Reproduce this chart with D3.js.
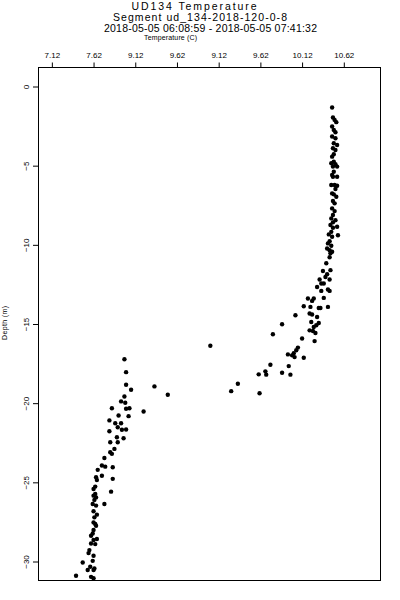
<!DOCTYPE html>
<html>
<head>
<meta charset="utf-8">
<script src="https://cdn.jsdelivr.net/npm/d3@7"></script>
<style>
  body { margin: 0; background: #fff; }
  svg { display: block; font-family: "Liberation Sans", Arial, Helvetica, sans-serif; }
  text { fill: #000; }
</style>
</head>
<body>
<svg id="chart" width="400" height="600"></svg>
<script>
// ===== data =====
const titleLines = [
	"UD134 Temperature",
	"Segment ud_134-2018-120-0-8",
	"2018-05-05 06:08:59 - 2018-05-05 07:41:32"
];
const xTitle = "Temperature (C)";
const yTitle = "Depth (m)";

const xTickValues = [7.12, 7.62, 8.12, 8.62, 9.12, 9.62, 10.12, 10.62];
const xTickLabels = ["7.12", "7.62", "9.12", "9.62", "9.12", "9.62", "10.12", "10.62"];
const yTickValues = [0, -5, -10, -15, -20, -25, -30];

// temperature (C) per sample
const temperature = [
	10.48, 10.49, 10.51, 10.53, 10.48, 10.50, 10.52, 10.48, 10.52, 10.50,
	10.54, 10.49, 10.52, 10.50, 10.48, 10.47, 10.50, 10.52, 10.49, 10.54,
	10.50, 10.48, 10.49, 10.54, 10.47, 10.51, 10.54, 10.52, 10.48, 10.50,
	10.53, 10.49, 10.51, 10.48, 10.51, 10.49, 10.47, 10.52, 10.49, 10.46,
	10.49, 10.54, 10.47, 10.44, 10.48, 10.55, 10.45, 10.43, 10.47, 10.42,
	10.45, 10.46, 10.48, 10.45, 10.41, 10.46, 10.37, 10.42, 10.40, 10.45,
	10.33, 10.38, 10.35, 10.30, 10.43, 10.45, 10.35, 10.38, 10.26, 10.19,
	10.24, 10.22, 10.14, 10.32, 10.34, 10.43, 10.21, 10.24, 10.04, 10.30,
	10.23, 10.32, 10.29, 10.26, 9.88, 10.21, 10.25, 10.28, 9.77, 10.12,
	10.27, 10.07, 10.05, 10.02, 9.95, 10.00, 10.03, 10.14,
	9.02, 9.74, 9.96, 9.68, 9.69, 9.60, 9.88, 9.98, 9.35, 9.27, 9.61,
	7.99, 8.01, 8.01, 8.07, 8.35, 8.51, 7.99, 7.95, 8.00, 7.84,
	8.01, 8.05, 8.22, 7.92, 8.04, 7.81, 7.88, 7.95, 7.91, 7.96,
	8.01, 7.81, 7.90, 7.98, 7.82, 7.91, 7.87, 7.82, 7.84, 7.75,
	7.72, 7.76, 7.85, 7.67, 7.72, 7.65, 7.66, 7.85, 7.64, 7.62,
	7.83, 7.64, 7.62, 7.65, 7.63, 7.61, 7.75, 7.65, 7.62, 7.66,
	7.63, 7.62, 7.64, 7.65, 7.62, 7.61, 7.59, 7.66, 7.62, 7.59,
	7.64, 7.57, 7.56, 7.62, 7.61, 7.49, 7.58, 7.63, 7.55, 7.62,
	7.41, 7.59, 7.62
];

// depth (m) per sample
const depth = [
	-1.33, -1.96, -2.11, -2.25, -2.53, -2.74, -2.89, -3.16, -3.27, -3.58,
	-3.69, -3.90, -4.01, -4.28, -4.43, -4.85, -4.75, -4.91, -5.06, -5.06,
	-5.38, -5.59, -5.70, -5.70, -6.22, -6.22, -6.27, -6.47, -6.75, -6.81,
	-6.96, -7.23, -7.38, -7.70, -7.87, -8.12, -8.33, -8.44, -8.58, -8.75,
	-8.92, -8.86, -9.18, -9.34, -9.49, -9.39, -9.77, -9.91, -10.06, -10.23,
	-10.34, -10.53, -10.44, -10.78, -11.16, -11.60, -11.65, -11.85, -12.03, -12.19,
	-12.19, -12.44, -12.44, -12.66, -12.82, -12.91, -12.91, -13.35, -13.39, -13.39,
	-13.54, -13.92, -13.88, -13.99, -13.99, -13.92, -14.34, -14.40, -14.45, -14.56,
	-14.87, -14.94, -15.08, -15.19, -15.02, -15.40, -15.44, -15.57, -15.65, -15.92,
	-16.08, -16.49, -16.66, -16.84, -16.92, -16.98, -17.09, -17.13,
	-16.37, -17.57, -17.66, -17.99, -18.20, -18.18, -18.08, -18.20, -18.77, -19.24, -19.37,
	-17.23, -18.04, -18.84, -19.15, -18.94, -19.47, -19.58, -19.89, -19.97, -20.32,
	-20.35, -20.32, -20.53, -20.78, -20.82, -21.09, -21.27, -21.27, -21.52, -21.68,
	-21.66, -21.77, -22.15, -22.22, -22.47, -22.47, -22.89, -23.10, -23.20, -23.46,
	-23.94, -24.01, -24.05, -24.21, -24.58, -24.68, -24.85, -24.78, -25.27, -25.42,
	-25.59, -25.73, -25.84, -25.95, -26.11, -26.37, -26.37, -26.47, -26.83, -27.04,
	-27.21, -27.53, -27.63, -27.74, -28.01, -28.23, -28.37, -28.58, -28.64, -28.86,
	-28.90, -29.28, -29.47, -29.64, -29.96, -30.06, -30.33, -30.44, -30.54, -30.54,
	-30.90, -30.97, -31.05
];

// ===== chart =====
const svg = d3.select("#chart");
const box = { left: 38.5, top: 67.5, right: 380.5, bottom: 580.5 };

const x = d3.scaleLinear()
	.domain([6.96, 11.06])
	.range([box.left, box.right]);

const y = d3.scaleLinear()
	.domain([1.2, -31.2])
	.range([box.top, box.bottom]);

// titles - widths fitted to the original, extra room goes into letter spacing
const titlePos = [
	{ x: 131.5, y: 9.5, w: 125 },
	{ x: 113, y: 21, w: 174 },
	{ x: 104, y: 32, w: 213 }
];
titleLines.forEach((t, i) => {
	svg.append("text")
		.attr("x", titlePos[i].x)
		.attr("y", titlePos[i].y)
		.attr("textLength", titlePos[i].w)
		.attr("lengthAdjust", "spacing")
		.style("font-size", "10.5px")
		.text(t);
});

svg.append("text")
	.attr("x", 144)
	.attr("y", 39.5)
	.attr("textLength", 53)
	.attr("lengthAdjust", "spacing")
	.style("font-size", "7px")
	.text(xTitle);

svg.append("text")
	.attr("transform", "translate(7,323) rotate(-90)")
	.attr("text-anchor", "middle")
	.attr("textLength", 34)
	.attr("lengthAdjust", "spacing")
	.style("font-size", "7px")
	.text(yTitle);

// top axis
const xAxis = d3.axisTop(x)
	.tickValues(xTickValues)
	.tickSize(5)
	.tickPadding(5)
	.tickFormat((d, i) => xTickLabels[i]);

const gx = svg.append("g")
	.attr("transform", `translate(0,${box.top})`)
	.call(xAxis);
gx.select(".domain").remove();
gx.selectAll("line").attr("stroke", "#000");
gx.selectAll("text")
	.style("font-size", "8px")
	.style("font-family", "inherit")
	.attr("fill", "#000");

// left axis, rotated labels
const yAxis = d3.axisLeft(y)
	.tickValues(yTickValues)
	.tickSize(5.5)
	.tickFormat(d3.format("d"));

const gy = svg.append("g")
	.attr("transform", `translate(${box.left},0)`)
	.call(yAxis);
gy.select(".domain").remove();
gy.selectAll("line").attr("stroke", "#000");
gy.selectAll("text")
	.attr("x", null).attr("dy", null)
	.attr("transform", "translate(-10,0) rotate(-90)")
	.attr("text-anchor", "middle")
	.style("font-size", "8px")
	.style("font-family", "inherit")
	.attr("fill", "#000");

// plot frame
svg.append("rect")
	.attr("x", box.left)
	.attr("y", box.top)
	.attr("width", box.right - box.left)
	.attr("height", box.bottom - box.top)
	.attr("fill", "none")
	.attr("stroke", "#000")
	.attr("stroke-width", 1);

// points
svg.append("g")
	.selectAll("circle")
	.data(d3.range(temperature.length))
	.join("circle")
	.attr("cx", i => x(temperature[i]))
	.attr("cy", i => y(depth[i]))
	.attr("r", 2.2)
	.attr("fill", "#000");
</script>
</body>
</html>
